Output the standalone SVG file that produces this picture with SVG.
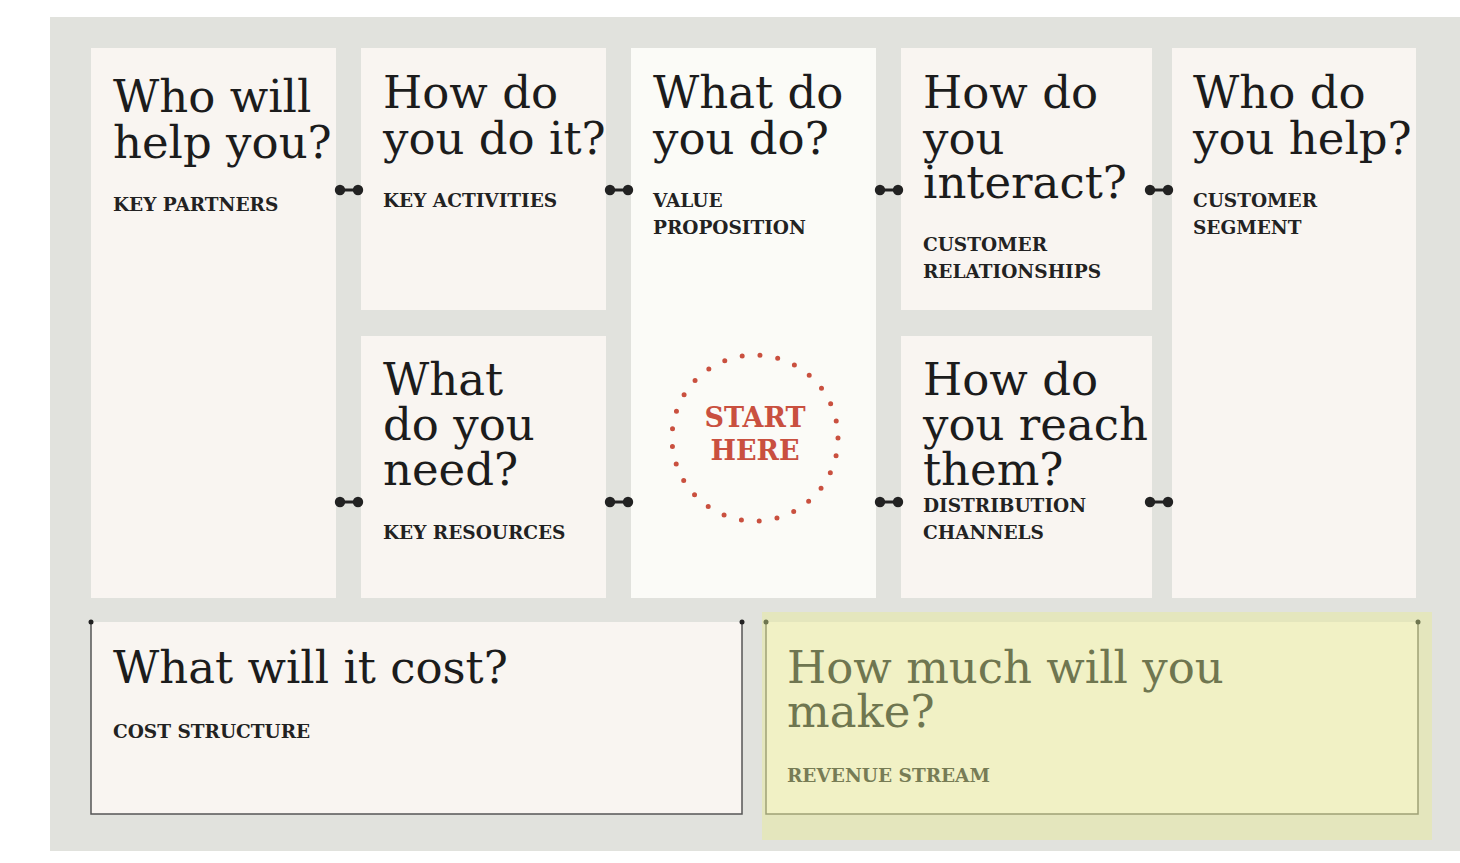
<svg xmlns="http://www.w3.org/2000/svg" width="1460" height="863" viewBox="0 0 1460 863">
<defs>
<style>
.bg{fill:#e1e2dd}
.box{fill:#f9f5f1}
.vp{fill:#fbfbf7}
.t{font-family:"DejaVu Serif","Liberation Serif",serif;font-size:45px;fill:#1c1c1c}
.l{font-family:"DejaVu Serif","Liberation Serif",serif;font-size:18.5px;font-weight:bold;fill:#222}
.tg{fill:#6f7650}
.lg{fill:#777c55}
.start{font-family:"DejaVu Serif","Liberation Serif",serif;font-size:27px;font-weight:bold;fill:#c9503f;text-anchor:middle}
</style>
<g id="db">
<line x1="-9" y1="0" x2="9" y2="0" stroke="#222" stroke-width="3"/>
<circle cx="-9" cy="0" r="5.2" fill="#222"/>
<circle cx="9" cy="0" r="5.2" fill="#222"/>
</g>
</defs>
<rect x="0" y="0" width="1460" height="863" fill="#ffffff"/>
<rect class="bg" x="50" y="17" width="1410" height="834"/>

<g id="key-partners">
<rect class="box" x="91" y="48" width="245" height="550"/>
<text class="t" x="113" y="112">Who will</text>
<text class="t" x="113" y="158">help you?</text>
<text class="l" x="113" y="211">KEY PARTNERS</text>
</g>

<g id="key-activities">
<rect class="box" x="361" y="48" width="245" height="262"/>
<text class="t" x="383" y="108">How do</text>
<text class="t" x="383" y="154">you do it?</text>
<text class="l" x="383" y="207">KEY ACTIVITIES</text>
</g>

<g id="key-resources">
<rect class="box" x="361" y="336" width="245" height="262"/>
<text class="t" x="383" y="395">What</text>
<text class="t" x="383" y="440">do you</text>
<text class="t" x="383" y="485">need?</text>
<text class="l" x="383" y="539">KEY RESOURCES</text>
</g>

<g id="value-proposition">
<rect class="vp" x="631" y="48" width="245" height="550"/>
<text class="t" x="653" y="108">What do</text>
<text class="t" x="653" y="154">you do?</text>
<text class="l" x="653" y="207">VALUE</text>
<text class="l" x="653" y="234">PROPOSITION</text>
<circle cx="755" cy="438" r="83" fill="none" stroke="#c9503f" stroke-width="5" stroke-linecap="round" stroke-dasharray="0 17.98"/>
<text class="start" x="755" y="427">START</text>
<text class="start" x="755" y="460">HERE</text>
</g>

<g id="customer-relationships">
<rect class="box" x="901" y="48" width="251" height="262"/>
<text class="t" x="923" y="108">How do</text>
<text class="t" x="923" y="154">you</text>
<text class="t" x="923" y="198">interact?</text>
<text class="l" x="923" y="251">CUSTOMER</text>
<text class="l" x="923" y="278">RELATIONSHIPS</text>
</g>

<g id="channels">
<rect class="box" x="901" y="336" width="251" height="262"/>
<text class="t" x="923" y="395">How do</text>
<text class="t" x="923" y="440">you reach</text>
<text class="t" x="923" y="485">them?</text>
<text class="l" x="923" y="512">DISTRIBUTION</text>
<text class="l" x="923" y="539">CHANNELS</text>
</g>

<g id="customer-segment">
<rect class="box" x="1172" y="48" width="244" height="550"/>
<text class="t" x="1193" y="108">Who do</text>
<text class="t" x="1193" y="154">you help?</text>
<text class="l" x="1193" y="207">CUSTOMER</text>
<text class="l" x="1193" y="234">SEGMENT</text>
</g>

<g id="cost-structure">
<rect class="box" x="91" y="622" width="651" height="192"/>
<path d="M91 622 V814 H742 V622" fill="none" stroke="#555" stroke-width="1.5"/>
<circle cx="91" cy="622" r="2.5" fill="#222"/>
<circle cx="742" cy="622" r="2.5" fill="#222"/>
<text class="t" x="113" y="683">What will it cost?</text>
<text class="l" x="113" y="738">COST STRUCTURE</text>
</g>

<g id="revenue-stream">
<rect x="762" y="612" width="670" height="228" fill="#e4e6bd"/>
<rect x="766" y="622" width="652" height="192" fill="#f1f1c5"/>
<path d="M766 622 V814 H1418 V622" fill="none" stroke="#9ea176" stroke-width="1.5"/>
<circle cx="766" cy="622" r="2.5" fill="#6f7650"/>
<circle cx="1418" cy="622" r="2.5" fill="#6f7650"/>
<text class="t tg" x="787" y="683">How much will you</text>
<text class="t tg" x="787" y="727">make?</text>
<text class="l lg" x="787" y="782">REVENUE STREAM</text>
</g>

<g id="connectors">
<use href="#db" x="349" y="190"/>
<use href="#db" x="619" y="190"/>
<use href="#db" x="889" y="190"/>
<use href="#db" x="1159" y="190"/>
<use href="#db" x="349" y="502"/>
<use href="#db" x="619" y="502"/>
<use href="#db" x="889" y="502"/>
<use href="#db" x="1159" y="502"/>
</g>
</svg>
